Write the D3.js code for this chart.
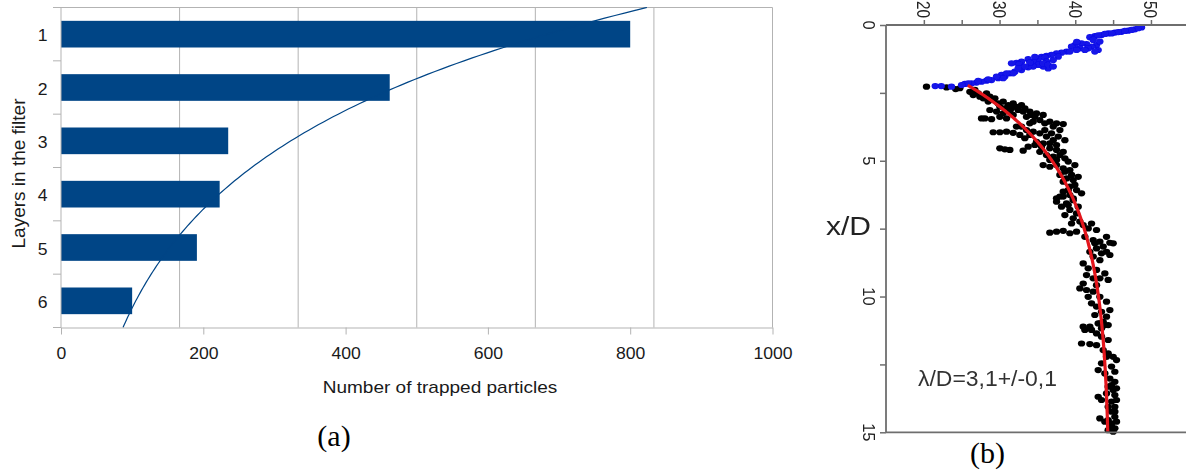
<!DOCTYPE html>
<html>
<head>
<meta charset="utf-8">
<script src="https://cdn.jsdelivr.net/npm/d3@7"></script>
<style>
  html, body { margin: 0; padding: 0; background: #fff; }
  svg { display: block; }
</style>
</head>
<body>
<svg id="fig" width="1186" height="475"></svg>
<script>
// ---------- Panel (a): particles trapped per filter layer ----------
const layers = ["1", "2", "3", "4", "5", "6"];
const trapped = [800, 462, 235, 223, 191, 100];
const countTicks = [0, 200, 400, 600, 800, 1000];

// ---------- Panel (b): profile along x/D ----------
// [x/D, value] pairs
const nearField = [
  [0.09,48.75],[0.16,47.87],[0.21,46.99],[0.25,46.11],[0.28,45.23],[0.31,44.35],[0.37,43.47],
  [0.41,42.59],[0.45,41.93],[0.74,42.81],[0.80,42.15],[0.92,43.03],[0.70,41.49],[0.68,40.83],
  [0.86,40.61],[0.74,39.95],[0.80,39.51],[0.98,38.85],[1.02,38.19],[1.04,37.53],[1.10,36.86],
  [1.14,36.20],[1.17,35.54],[1.26,35.10],[1.35,34.44],[1.26,33.78],[1.35,32.90],[1.39,32.24],
  [1.41,31.58],[1.60,36.42],[1.53,35.76],[1.47,35.10],[1.53,34.44],[1.56,33.78],[1.66,32.90],
  [1.72,32.02],[1.78,31.36],[1.90,30.70],[1.84,30.26],[1.96,29.82],[2.03,28.94],[2.05,28.28],
  [2.09,27.62],[2.12,26.96],[2.15,26.30],[2.17,25.42],[2.25,22.30],[2.25,21.50],
  [0.85,41.70],[0.62,40.20],[1.20,36.00],[1.45,32.60],
  [0.12,48.31],[0.18,47.43],[0.22,46.55],[0.26,45.67],[0.31,44.79],[0.33,43.91],[0.38,43.03],
  [0.55,42.37],[0.61,43.25],[0.86,41.71],[0.98,42.59],[0.92,41.27],[0.92,40.17],[0.98,39.29],
  [1.17,37.75],[1.29,37.09],[1.35,36.20],[1.41,35.76],[1.47,36.42],[1.53,37.09],[1.17,34.66],
  [1.39,34.00],[1.53,33.34],[1.60,32.46],[1.78,31.80],[1.78,30.92],[1.96,30.48],[1.90,29.60],
  [2.00,28.50],[2.06,27.18],[2.15,25.86],[2.21,24.98],[2.27,23.65]
];
const farField = [
  [2.27,20.35],[2.30,23.00],[2.36,24.20],[2.33,24.75],
  [2.46,26.08],[2.58,26.52],[2.52,27.18],[2.70,27.84],[2.52,28.28],[2.64,28.72],[2.76,29.16],
  [2.89,29.82],[2.82,30.48],[2.95,31.14],[2.89,31.80],[3.01,32.24],[2.95,32.90],[3.13,32.46],
  [3.19,33.12],[3.19,31.36],[3.25,30.48],[3.19,29.60],[3.13,28.72],[3.44,27.62],[3.44,28.06],
  [3.47,28.94],[3.38,30.04],[3.44,30.92],[3.31,31.80],[3.38,33.56],[3.31,34.22],[3.25,34.88],
  [3.31,35.76],[3.56,36.64],[3.62,37.53],[3.65,38.41],[3.56,34.44],[3.62,34.00],[3.74,32.90],
  [3.74,32.24],[3.87,33.56],[3.93,34.44],[3.99,35.32],[4.11,36.20],[4.24,37.09],[3.95,29.16],
  [3.95,30.04],[3.93,30.92],[3.97,31.80],[4.05,32.68],[4.05,34.00],[4.17,33.34],[4.30,34.88],
  [4.36,35.76],[4.36,36.64],[4.42,37.53],[4.54,30.04],[4.58,30.70],[4.60,31.36],[4.63,33.12],
  [4.48,33.78],[4.67,35.32],[4.79,36.20],[4.85,37.09],[4.79,37.97],[4.91,38.63],[5.16,35.76],
  [5.22,36.64],[5.16,37.53],[5.28,38.41],[5.34,39.29],[5.52,37.97],[5.65,38.85],[5.71,39.73],
  [5.77,38.41],[5.95,39.29],[6.08,40.17],[6.38,37.53],[6.32,38.41],[6.26,39.29],
  [2.39,26.74],[2.64,27.40],[2.82,28.50],[2.70,29.38],[3.01,30.04],[3.07,30.70],[3.07,31.58],
  [3.07,33.34],[3.19,34.00],[3.38,34.66],[3.50,35.32],[3.62,35.98],[3.74,37.09],[3.87,37.97],
  [3.87,35.98],[3.99,36.86],[4.11,37.75],[4.24,38.63],[4.42,34.66],[4.48,35.54],[4.54,36.64],
  [4.60,37.53],[4.67,38.41],[5.03,39.07],[5.16,39.95],[4.97,36.64],[4.97,37.53],[5.40,38.63],
  [5.52,39.51],[5.59,40.39],[5.89,39.95],[6.20,40.83],[6.08,39.07],[6.38,39.73],
  [6.14,38.41],[6.51,37.53],[6.69,38.19],[6.57,38.85],[6.45,39.73],[6.81,39.29],[7.00,38.63],
  [6.94,40.17],[7.12,39.73],[7.24,40.61],[7.37,41.05],[7.31,42.15],[7.65,36.64],[7.61,37.53],
  [7.58,38.41],[7.67,39.29],[7.61,40.17],[7.80,41.27],[7.92,42.37],[7.98,43.25],[8.02,44.57],
  [8.16,43.69],[8.23,42.81],[8.35,44.13],[8.53,42.37],[8.66,43.25],[8.78,41.05],[8.96,41.71],
  [9.02,42.81],[9.15,43.91],[9.33,43.25],[9.70,40.61],[9.76,41.49],[9.82,42.37],[10.01,41.71],
  [10.25,42.15],[10.37,42.81],[10.56,43.47],[10.74,44.13],[10.93,43.69],[11.11,41.05],[11.11,41.93],
  [6.32,37.97],[6.63,39.07],[6.69,40.39],[7.31,39.51],[7.49,41.71],[7.55,42.81],[7.80,44.13],
  [8.04,45.01],[8.04,42.59],[8.35,41.93],[8.41,43.47],[8.47,44.57],[9.21,41.49],[9.33,42.37],
  [9.39,44.35],[9.52,41.05],[9.58,42.81],[10.01,43.25],[10.19,44.13],[10.68,42.59],[10.50,44.57],
  [10.99,43.25],[11.05,44.35],
  [10.99,43.03],[11.17,43.47],[11.23,41.27],[11.23,42.15],[11.36,42.81],[11.48,43.47],[11.73,40.83],
  [11.75,41.93],[11.79,42.81],[11.97,43.69],[12.09,44.35],[12.22,45.01],[12.34,45.45],[12.46,43.47],
  [12.71,43.03],[12.83,43.91],[13.02,44.57],[13.14,45.23],[13.32,44.35],[13.44,45.01],[13.63,45.23],
  [13.69,43.03],[13.81,43.47],[13.87,44.79],[14.06,45.23],[14.24,44.79],[14.43,45.23],[14.49,43.25],
  [14.61,43.91],[14.67,44.79],[14.85,45.23],[14.92,44.35],
  [11.05,43.91],[11.60,44.35],[12.22,44.13],[12.58,44.79],[12.77,45.23],[13.26,44.79],[13.38,45.45],
  [13.57,44.13],[13.81,45.45],[14.06,44.35],[14.24,45.23],[14.55,44.35],[14.61,45.45],[14.79,44.79],
  [14.98,45.01]
];
const valueTicks = [20, 30, 40, 50];
const xdTicks = [0, 5, 10, 15];

// relaxation fit: v = plateau - (plateau - v0) * exp(-(x - x0) / lambda)
const lambdaD = 3.1;
const fitStart = 2.22;
const fitStartValue = 25.8;
const fitPlateau = 44.6;

const svg = d3.select("#fig");
svg.append("rect").attr("width", 1186).attr("height", 475).attr("fill", "#fff");

const SANS = "'Liberation Sans', Arial, sans-serif";
const SERIF = "'Liberation Serif', 'Times New Roman', serif";

// ======================= Panel (a) =======================
const A = { left: 61, right: 772.5, top: 7.5, bottom: 327.5 };
const gridCol = "#b3b3b3";
const barCol = "#004586";
const textCol = "#1a1a1a";

const xA = d3.scaleLinear().domain([0, 1000]).range([A.left, A.right]);
const yA = d3.scaleBand().domain(layers).range([A.top, A.bottom])
  .paddingInner(0.5).paddingOuter(0.25);
// continuous layer position for the trend line (band centres at 1..6)
const yLayer = d3.scaleLinear().domain([0.5, layers.length + 0.5]).range([A.top, A.bottom]);

const ga = svg.append("g");

// vertical grid lines (six equal divisions)
const gridDiv = 6;
ga.append("g").selectAll("line")
  .data(d3.range(1, gridDiv + 1))
  .join("line")
  .attr("x1", i => xA(1000 * i / gridDiv)).attr("x2", i => xA(1000 * i / gridDiv))
  .attr("y1", A.top).attr("y2", A.bottom)
  .attr("stroke", gridCol).attr("stroke-width", 1);

// top frame line
ga.append("line")
  .attr("x1", A.left).attr("x2", A.right).attr("y1", A.top).attr("y2", A.top)
  .attr("stroke", gridCol).attr("stroke-width", 1);

// bars
ga.append("g").selectAll("rect")
  .data(layers.map((l, i) => ({ layer: l, n: trapped[i] })))
  .join("rect")
  .attr("x", xA(0))
  .attr("y", d => yA(d.layer))
  .attr("width", d => xA(d.n) - xA(0))
  .attr("height", yA.bandwidth())
  .attr("fill", barCol);

// exponential trend line fitted to the bar values (least squares on ln n)
const ks = layers.map((l, i) => i + 1);
const lns = trapped.map(v => Math.log(v));
const kMean = d3.mean(ks), lMean = d3.mean(lns);
const slope = d3.sum(ks.map((k, i) => (k - kMean) * (lns[i] - lMean))) /
              d3.sum(ks.map(k => (k - kMean) ** 2));
const intercept = lMean - slope * kMean;
const trend = d3.range(0.5, layers.length + 0.5001, 0.05)
  .map(k => ({ k, n: Math.exp(intercept + slope * k) }));
ga.append("path")
  .datum(trend)
  .attr("fill", "none")
  .attr("stroke", barCol)
  .attr("stroke-width", 1.2)
  .attr("d", d3.line().x(d => xA(d.n)).y(d => yLayer(d.k)).curve(d3.curveBasis));

// x axis
const xAxisA = ga.append("g")
  .attr("transform", `translate(0,${A.bottom})`)
  .call(d3.axisBottom(xA).tickValues(countTicks).tickSize(7).tickSizeOuter(0)
    .tickFormat(d3.format("d")));
xAxisA.select(".domain").attr("stroke", gridCol).attr("stroke-width", 1);
xAxisA.selectAll(".tick line").attr("stroke", gridCol);
xAxisA.selectAll(".tick text")
  .attr("y", null).attr("dy", null)
  .attr("transform", "translate(0,31.8) scale(1.1,1)")
  .attr("font-family", SANS).attr("font-size", 16).attr("fill", textCol);

// y axis: ticks at band boundaries
ga.append("line")
  .attr("x1", A.left).attr("x2", A.left).attr("y1", A.top).attr("y2", A.bottom)
  .attr("stroke", gridCol).attr("stroke-width", 1);
ga.append("g").selectAll("line")
  .data(d3.range(0, layers.length + 1))
  .join("line")
  .attr("x1", A.left - 8).attr("x2", A.left)
  .attr("y1", i => yLayer(i + 0.5)).attr("y2", i => yLayer(i + 0.5))
  .attr("stroke", gridCol).attr("stroke-width", 1);
ga.append("g").selectAll("text")
  .data(layers)
  .join("text")
  .attr("transform", d => `translate(47.5,${yA(d) + yA.bandwidth() / 2 + 7.3}) scale(1.1,1)`)
  .attr("text-anchor", "end")
  .attr("font-family", SANS).attr("font-size", 16).attr("fill", textCol)
  .text(d => d);

// axis titles
ga.append("text")
  .attr("transform", "translate(440,392.5) scale(1.12,1)")
  .attr("text-anchor", "middle")
  .attr("font-family", SANS).attr("font-size", 17).attr("fill", textCol)
  .text("Number of trapped particles");
ga.append("text")
  .attr("transform", "translate(24.5,173.5) rotate(-90)")
  .attr("text-anchor", "middle")
  .attr("font-family", SANS).attr("font-size", 19).attr("fill", textCol)
  .text("Layers in the filter");

// caption
ga.append("text")
  .attr("x", 334).attr("y", 446)
  .attr("text-anchor", "middle")
  .attr("font-family", SERIF).attr("font-size", 30).attr("fill", "#000")
  .text("(a)");

// ======================= Panel (b) =======================
const defs = svg.append("defs");
defs.append("filter").attr("id", "soft")
  .append("feGaussianBlur").attr("stdDeviation", 0.45);

const B = { left: 886, top: 25, bottom: 432.3 };
const xB = d3.scaleLinear().domain([15, 55]).range([B.left, 1188.8]);
const yB = d3.scaleLinear().domain([0, 15]).range([B.top, B.bottom]);
const axisCol = "#6e6e6e";

const gb = svg.append("g").attr("filter", "url(#soft)");

// markers
const rx = 3.7, ry = 3.1;
gb.append("g").selectAll("ellipse")
  .data(farField)
  .join("ellipse")
  .attr("cx", d => xB(d[1])).attr("cy", d => yB(d[0]))
  .attr("rx", rx).attr("ry", ry)
  .attr("fill", "#000");
gb.append("g").selectAll("ellipse")
  .data(nearField)
  .join("ellipse")
  .attr("cx", d => xB(d[1])).attr("cy", d => yB(d[0]))
  .attr("rx", rx).attr("ry", ry)
  .attr("fill", "#1212e8");

// fitted relaxation curve
const fit = d3.range(fitStart, 15.0001, 0.05)
  .map(x => [x, fitPlateau - (fitPlateau - fitStartValue) * Math.exp(-(x - fitStart) / lambdaD)]);
gb.append("path")
  .datum(fit)
  .attr("fill", "none")
  .attr("stroke", "#e3141b")
  .attr("stroke-width", 3.2)
  .attr("d", d3.line().x(d => xB(d[1])).y(d => yB(d[0])));

// frame
gb.append("line").attr("x1", B.left).attr("x2", B.left).attr("y1", B.top).attr("y2", B.bottom)
  .attr("stroke", axisCol).attr("stroke-width", 1.8);
gb.append("line").attr("x1", B.left).attr("x2", 1190).attr("y1", B.top).attr("y2", B.top)
  .attr("stroke", axisCol).attr("stroke-width", 1.8);
gb.append("line").attr("x1", B.left).attr("x2", 1190).attr("y1", B.bottom).attr("y2", B.bottom)
  .attr("stroke", axisCol).attr("stroke-width", 1.8);

// value axis along the top
const topAxis = gb.append("g")
  .attr("transform", `translate(0,${B.top})`)
  .call(d3.axisTop(xB).tickValues(d3.range(20, 55, 5)).tickSize(5).tickSizeOuter(0).tickFormat(""));
topAxis.select(".domain").remove();
topAxis.selectAll(".tick line").attr("stroke", axisCol).attr("stroke-width", 1.5);
gb.append("g").selectAll("text")
  .data(valueTicks)
  .join("text")
  .attr("transform", d => `translate(${xB(d) - 6.5},18) rotate(90) scale(0.85,1)`)
  .attr("text-anchor", "end")
  .attr("font-family", SANS).attr("font-size", 18).attr("fill", "#222")
  .text(d => d);

// x/D axis along the left
const leftAxis = gb.append("g")
  .attr("transform", `translate(${B.left},0)`)
  .call(d3.axisLeft(yB).tickValues(d3.range(0, 15.01, 2.5)).tickSize(6).tickSizeOuter(0).tickFormat(""));
leftAxis.select(".domain").remove();
leftAxis.selectAll(".tick line").attr("stroke", axisCol).attr("stroke-width", 1.5);
gb.append("g").selectAll("text")
  .data(xdTicks)
  .join("text")
  .attr("transform", d => `translate(863,${yB(d)}) rotate(90)`)
  .attr("text-anchor", "middle")
  .attr("font-family", SANS).attr("font-size", 16.5).attr("fill", "#222")
  .text(d => d);

gb.append("text")
  .attr("x", 826).attr("y", 235)
  .attr("textLength", 45).attr("lengthAdjust", "spacingAndGlyphs")
  .attr("font-family", SANS).attr("font-size", 26).attr("fill", "#222")
  .text("x/D");

gb.append("text")
  .attr("x", 918).attr("y", 386)
  .attr("textLength", 139).attr("lengthAdjust", "spacingAndGlyphs")
  .attr("font-family", SANS).attr("font-size", 22).attr("fill", "#333")
  .text("\u03BB/D=3,1+/-0,1");

svg.append("text")
  .attr("x", 987.5).attr("y", 463)
  .attr("text-anchor", "middle")
  .attr("font-family", SERIF).attr("font-size", 30).attr("fill", "#000")
  .text("(b)");
</script>
</body>
</html>
